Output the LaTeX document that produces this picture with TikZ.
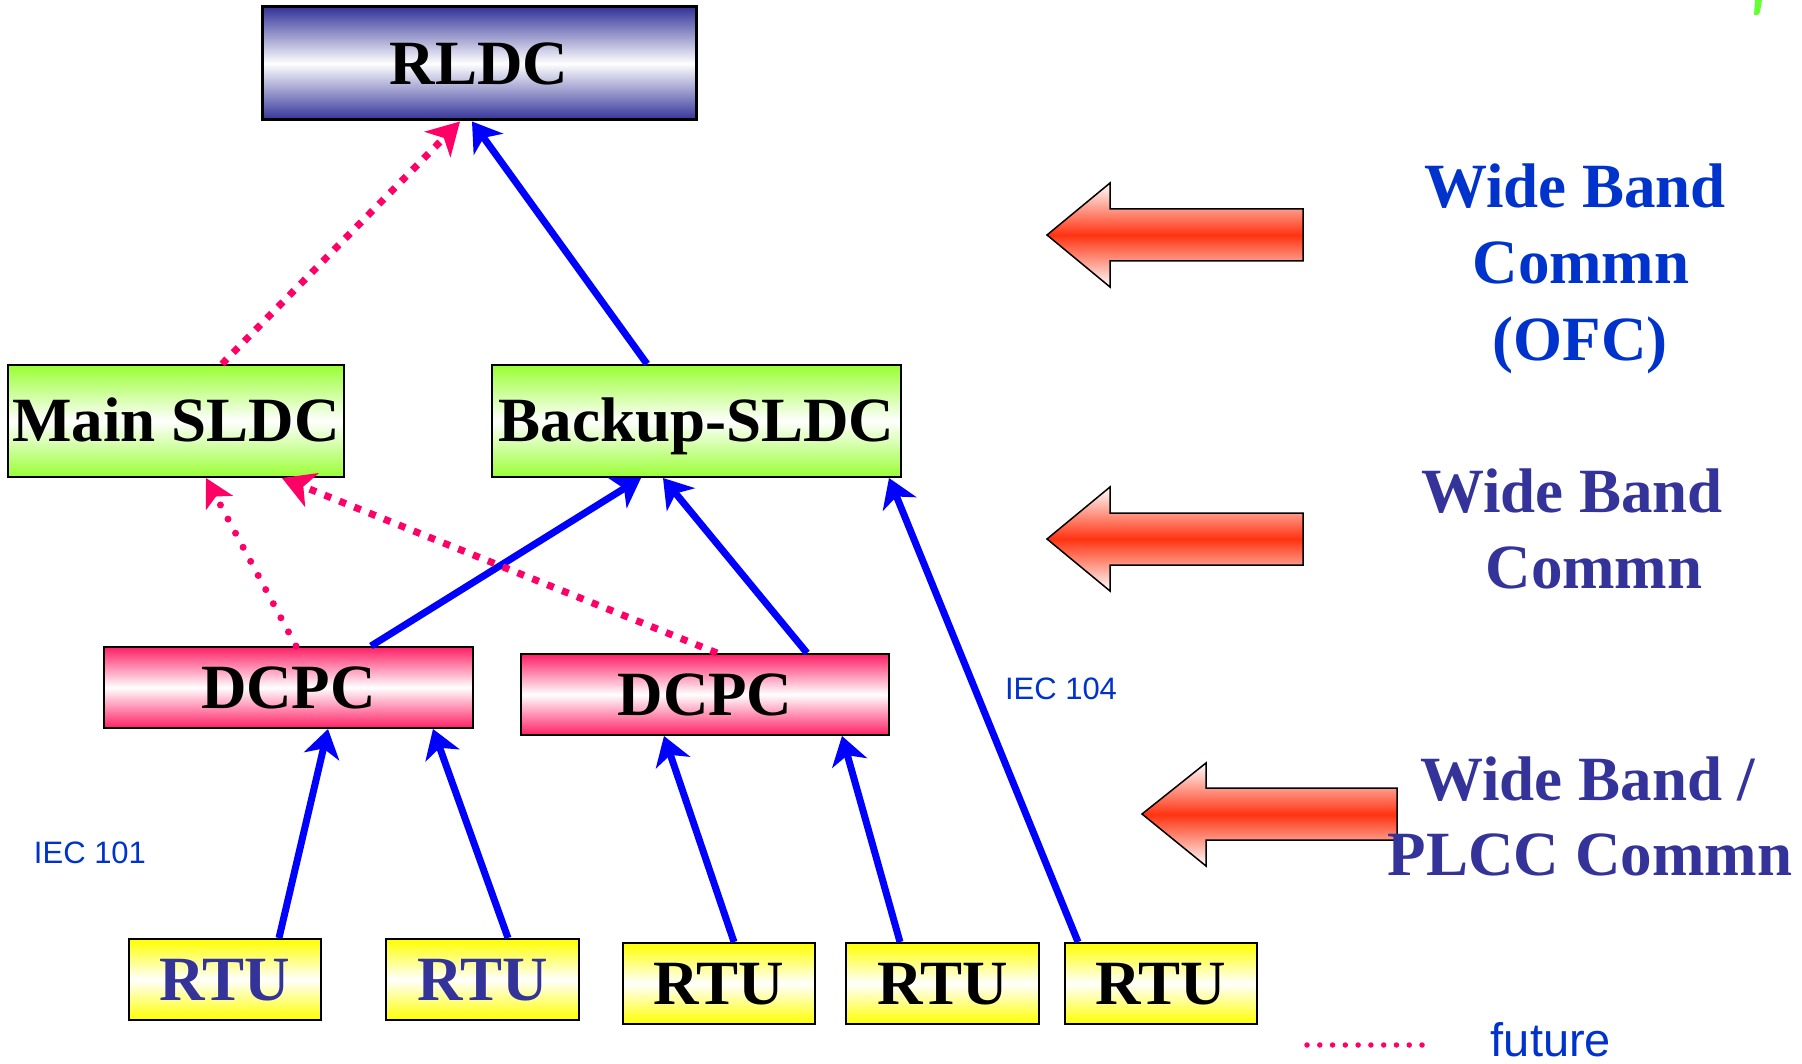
\documentclass[tikz,border=0pt]{standalone}
\usepackage{fontspec}
\setmainfont{Liberation Serif}
\setsansfont{Liberation Sans}
\usetikzlibrary{arrows.meta,calc}
\definecolor{navy}{RGB}{51,51,153}
\definecolor{sgreen}{RGB}{153,255,51}
\definecolor{dpink}{RGB}{255,31,102}
\definecolor{ryellow}{RGB}{255,255,0}
\definecolor{lblue}{RGB}{0,51,204}
\definecolor{fpink}{RGB}{255,0,102}
\definecolor{bred}{RGB}{255,51,17}
\definecolor{pgreen}{RGB}{102,255,51}
\begin{document}
\begin{tikzpicture}[x=1pt,y=-1pt,
  box/.style={draw=black, line width=2pt, inner sep=0pt, text height=42pt, text depth=0pt,
    font=\fontsize{63}{76}\selectfont\bfseries},
  rldcbox/.style={box, line width=3pt, top color=navy, bottom color=navy, middle color=white},
  sldcbox/.style={box, top color=sgreen, bottom color=sgreen, middle color=white},
  dcpcbox/.style={box, top color=dpink, bottom color=dpink, middle color=white},
  rtubox/.style={box, top color=ryellow, bottom color=ryellow, middle color=white},
  bigtxt/.style={font=\fontsize{63}{76}\selectfont\bfseries, inner sep=0pt, anchor=base},
  smalltxt/.style={font=\sffamily\fontsize{31}{36}\selectfont, text=lblue, inner sep=0pt, anchor=base},
  blockarrow/.style={draw=black, line width=1.5pt, top color=white, bottom color=white, middle color=bred},
  blueline/.style={draw=blue, line width=7pt, -{Stealth[length=28pt,width=36pt,inset=8pt]}},
  pinksq/.style={draw=fpink, line width=7pt, dash pattern=on 7pt off 9pt, -{Stealth[length=32pt,width=36pt,inset=9pt]}},
  pinkround/.style={draw=fpink, line width=7pt, line cap=round, dash pattern=on 0pt off 16pt, -{Stealth[length=28pt,width=30pt,inset=7pt]}}
]
\useasboundingbox (0,0) rectangle (1802,1064);

% boxes
\node[rldcbox, minimum width=434pt, minimum height=113pt] (rldc) at (479,63.5) {RLDC};
\node[sldcbox, minimum width=336pt, minimum height=112pt] (msldc) at (176,421) {Main SLDC};
\node[sldcbox, minimum width=409pt, minimum height=112pt] (bsldc) at (696.5,421) {Backup-SLDC};
\node[dcpcbox, minimum width=369pt, minimum height=81pt] (dcpc1) at (288.5,687.5) {DCPC};
\node[dcpcbox, minimum width=368pt, minimum height=81pt] (dcpc2) at (705,694.5) {DCPC};
\node[rtubox, minimum width=192pt, minimum height=81pt, text=navy] (rtu1) at (225,979.5) {RTU};
\node[rtubox, minimum width=193pt, minimum height=81pt, text=navy] (rtu2) at (482.5,979.5) {RTU};
\node[rtubox, minimum width=192pt, minimum height=81pt] (rtu3) at (719,983.5) {RTU};
\node[rtubox, minimum width=193pt, minimum height=81pt] (rtu4) at (942.5,983.5) {RTU};
\node[rtubox, minimum width=192pt, minimum height=81pt] (rtu5) at (1161,983.5) {RTU};

% connectors
\draw[pinksq] ([xshift=46pt]msldc.north) -- ([xshift=-19pt]rldc.south);
\draw[blueline] ([xshift=-49.5pt]bsldc.north) -- ([xshift=-7pt]rldc.south);
\draw[pinkround] ([xshift=7.5pt]dcpc1.north) -- ([xshift=30pt]msldc.south);
\draw[blueline] ([xshift=82.5pt]dcpc1.north) -- ([xshift=-55.5pt]bsldc.south);
\draw[pinksq] ([xshift=12pt]dcpc2.north) -- ([xshift=106pt]msldc.south);
\draw[blueline] ([xshift=102pt]dcpc2.north) -- ([xshift=-33.5pt]bsldc.south);
\draw[blueline] ([xshift=-83pt]rtu5.north) -- ([xshift=192.5pt]bsldc.south);
\draw[blueline] ([xshift=54pt]rtu1.north) -- ([xshift=39.5pt]dcpc1.south);
\draw[blueline] ([xshift=25.5pt]rtu2.north) -- ([xshift=144.5pt]dcpc1.south);
\draw[blueline] ([xshift=15pt]rtu3.north) -- ([xshift=-41pt]dcpc2.south);
\draw[blueline] ([xshift=-42.5pt]rtu4.north) -- ([xshift=137pt]dcpc2.south);

% block arrows
\path[blockarrow] (1047,235) -- (1110,183) -- (1110,209) -- (1303,209) -- (1303,261) -- (1110,261) -- (1110,287) -- cycle;
\path[blockarrow] (1047,539) -- (1110,487) -- (1110,513) -- (1303,513) -- (1303,565) -- (1110,565) -- (1110,591) -- cycle;
\path[blockarrow] (1142,814) -- (1206,763) -- (1206,788) -- (1397,788) -- (1397,840) -- (1206,840) -- (1206,866) -- cycle;

% side texts
\node[bigtxt, text=lblue] (t1a) at (1575,208) {Wide Band};
\node[bigtxt, text=lblue] (t1b) at (1581,284) {Commn};
\node[bigtxt, text=lblue] (t1c) at (1580,361) {(OFC)};
\node[bigtxt, text=navy] (t2a) at (1572,512) {Wide Band};
\node[bigtxt, text=navy] (t2b) at (1594,588) {Commn};
\node[bigtxt, text=navy] (t3a) at (1588,800) {Wide Band /};
\node[bigtxt, text=navy] (t3b) at (1590,875) {PLCC Commn};

% small labels
\node[smalltxt] (iec104) at (1061,699) {IEC 104};
\node[smalltxt] (iec101) at (90,863) {IEC 101};
\node[smalltxt, font=\sffamily\fontsize{47}{54}\selectfont] (future) at (1551,1056) {future};

% legend
\coordinate (leg1) at (1307,1045);
\coordinate (leg2) at (1423,1045);
\draw[fpink, line width=5.5pt, line cap=round, dash pattern=on 0pt off 12.78pt] (leg1) -- (leg2);

% green fragment top right
\fill[pgreen] (1755,0) -- (1762,0) -- (1760,12) -- (1758,15) -- (1754,15) -- cycle;
\end{tikzpicture}
\end{document}
